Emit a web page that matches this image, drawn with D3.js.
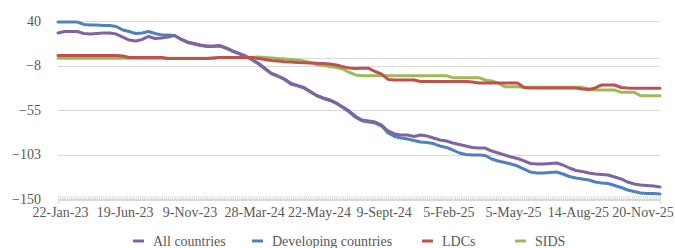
<!DOCTYPE html>
<html>
<head>
<meta charset="utf-8">
<script src="https://cdn.jsdelivr.net/npm/d3@7"></script>
<style>
  html, body { margin: 0; padding: 0; background: #fff; }
  svg { display: block; }
  svg text { font-family: "Liberation Serif", "DejaVu Serif", "Times New Roman", serif !important; font-size: 14px; fill: #595959; }
</style>
</head>
<body>
<svg id="chart" width="675" height="248"></svg>
<script>
// ---- data ----
const tickLabels = ["22-Jan-23","19-Jun-23","9-Nov-23","28-Mar-24","22-May-24","9-Sept-24","5-Feb-25","5-May-25","14-Aug-25","20-Nov-25"];
const tickIndexStep = 10;
const yTicks = [40, -7.5, -55, -102.5, -150];
const seriesNames = ["All countries", "Developing countries", "LDCs", "SIDS"];

const allCountries = [27.2,28.8,28.8,28.8,26.7,26.1,26.7,27.2,27.2,26.1,
  22.9,19.7,18.7,20.3,23.5,21.3,21.9,22.9,24.5,20.8,
  17.6,16.0,14.4,13.3,13.3,13.8,11.2,8.0,5.3,2.6,
  -1.1,-5.4,-10.7,-16.0,-18.7,-21.9,-26.7,-28.8,-31.0,-35.3,
  -39.5,-42.2,-44.3,-47.5,-51.8,-56.1,-61.9,-65.7,-66.7,-67.8,
  -71.0,-77.4,-80.6,-81.7,-81.7,-83.3,-81.7,-82.8,-84.9,-87.0,
  -88.1,-90.2,-91.8,-93.4,-95.0,-95.6,-95.6,-98.8,-100.9,-103.0,
  -105.2,-106.8,-109.4,-112.1,-112.6,-112.6,-112.1,-111.6,-113.7,-116.9,
  -119.6,-120.6,-122.2,-123.3,-123.8,-124.4,-126.5,-128.6,-131.9,-134.0,
  -135.1,-135.6,-136.1,-137.2];

const developing = [38.9,38.9,38.9,38.9,36.3,35.7,35.7,35.2,35.2,34.1,
  30.4,28.8,26.7,27.2,28.8,26.7,25.1,25.1,24.5,20.3,
  17.1,15.5,13.9,12.8,12.8,13.3,10.7,7.5,4.8,2.1,
  -1.6,-5.9,-11.2,-16.5,-19.2,-22.4,-27.2,-29.3,-31.5,-35.8,
  -40.0,-42.7,-44.8,-48.0,-52.3,-57.2,-63.0,-66.8,-67.8,-68.9,
  -72.1,-79.6,-83.3,-84.9,-86.0,-87.6,-89.2,-89.7,-90.8,-93.4,
  -95.0,-97.7,-100.9,-102.5,-103.0,-103.0,-103.6,-107.3,-109.4,-111.0,
  -112.6,-114.8,-118.0,-121.2,-122.2,-122.2,-121.7,-121.2,-123.3,-126.0,
  -127.6,-128.6,-129.7,-131.9,-132.9,-133.5,-135.6,-137.7,-140.4,-142.0,
  -143.6,-144.1,-144.1,-144.7];

const ldcs = [3.2,3.2,3.2,3.2,3.2,3.2,3.2,3.2,3.2,3.2,
  2.6,1.0,1.0,1.0,1.0,1.0,1.0,0.0,0.0,0.0,
  0.0,0.0,0.0,0.0,0.5,1.0,1.0,1.0,1.0,1.0,
  1.0,0.0,-1.1,-2.2,-2.7,-3.4,-3.8,-4.3,-4.5,-4.8,
  -5.2,-5.4,-5.9,-7.0,-8.8,-10.2,-10.7,-10.5,-10.5,-13.9,
  -16.6,-22.4,-23.0,-23.0,-23.0,-23.0,-24.6,-24.6,-24.6,-24.6,
  -24.6,-24.6,-24.6,-24.6,-25.1,-26.2,-26.2,-26.2,-26.2,-26.2,
  -26.2,-26.2,-31.0,-31.5,-31.5,-31.5,-31.5,-31.5,-31.5,-31.5,
  -31.5,-32.6,-33.1,-31.5,-28.3,-28.3,-28.3,-31.0,-31.5,-31.8,
  -31.8,-31.8,-31.8,-31.8];

const sids = [0.2,0.2,0.2,0.2,0.2,0.2,0.2,0.2,0.2,0.2,
  0.2,0.2,0.2,0.2,0.2,0.2,0.2,0.2,0.2,0.2,
  0.2,0.2,0.2,0.2,0.2,1.0,1.0,1.0,1.0,1.0,
  1.0,1.6,1.0,0.5,0.0,-0.6,-1.1,-1.6,-2.7,-4.3,
  -6.4,-7.5,-8.6,-9.6,-11.2,-15.0,-17.6,-18.4,-18.4,-18.4,
  -18.4,-18.4,-18.4,-18.4,-18.4,-18.4,-18.4,-18.4,-18.4,-18.4,
  -18.4,-20.5,-20.5,-20.5,-20.5,-20.5,-23.0,-24.0,-26.2,-30.1,
  -30.1,-30.1,-30.8,-30.8,-30.8,-30.8,-30.8,-30.8,-30.8,-30.8,
  -30.8,-30.8,-32.6,-33.7,-33.7,-33.7,-33.7,-36.1,-36.1,-36.1,
  -39.7,-39.7,-39.7,-39.7];

const colors = { "All countries": "#8064A2", "Developing countries": "#4F81BD", "LDCs": "#C0504D", "SIDS": "#9BBB59" };

// ---- chart ----
const svg = d3.select("#chart");
const margin = { left: 58, right: 15, top: 21, bottom: 49 };
const W = 675, H = 248;
const n = allCountries.length;

const x = d3.scaleLinear().domain([0, n - 1]).range([margin.left, W - margin.right]);
const y = d3.scaleLinear().domain([-150, 40]).range([H - margin.bottom, margin.top]);

const gridColor = "#D9D9D9";

// gridlines
svg.append("g").selectAll("line").data(yTicks.concat([0])).join("line")
  .attr("x1", margin.left).attr("x2", W - margin.right)
  .attr("y1", d => Math.round(y(d)) + 0.5).attr("y2", d => Math.round(y(d)) + 0.5)
  .attr("stroke", gridColor).attr("stroke-width", 1);

// y axis labels
const yAxis = d3.axisLeft(y).tickValues(yTicks).tickSize(0).tickPadding(0)
  .tickFormat(d => d3.format(".0f")(d < 0 ? d - 0.0001 : d));
const gy = svg.append("g").attr("transform", `translate(41,0)`).call(yAxis);
gy.attr("font-family", null).attr("font-size", null);
gy.select(".domain").remove();

// x axis: dense minor ticks
const minorTicks = d3.range(0, n - 1 + 0.001, 1 / 3);
const gxm = svg.append("g").attr("transform", `translate(0,${y(-150) + 1})`)
  .call(d3.axisBottom(x).tickValues(minorTicks).tickSize(4).tickFormat(""));
gxm.select(".domain").attr("stroke", gridColor);
gxm.selectAll(".tick line").attr("stroke", gridColor).attr("transform", "translate(0,-4)");

// x axis labels
const labelIdx = tickLabels.map((_, i) => i * tickIndexStep);
const gx = svg.append("g").attr("transform", `translate(2,${y(-150)})`)
  .call(d3.axisBottom(x).tickValues(labelIdx).tickSize(0).tickPadding(8)
    .tickFormat((d, i) => tickLabels[i]));
gx.attr("font-family", null).attr("font-size", null);
gx.select(".domain").remove();

// lines
const series = [
  { name: "Developing countries", values: developing },
  { name: "All countries", values: allCountries },
  { name: "SIDS", values: sids },
  { name: "LDCs", values: ldcs }
];
const line = d3.line().x((d, i) => x(i)).y(d => y(d));
svg.append("g").selectAll("path").data(series).join("path")
  .attr("d", d => line(d.values))
  .attr("fill", "none")
  .attr("stroke", d => colors[d.name])
  .attr("stroke-width", 3)
  .attr("stroke-linejoin", "round")
  .attr("stroke-linecap", "round");

// legend
const legendItems = [
  { name: "All countries", x: 133 },
  { name: "Developing countries", x: 252 },
  { name: "LDCs", x: 422 },
  { name: "SIDS", x: 515 }
];
const lg = svg.append("g").attr("transform", "translate(0,241)");
const li = lg.selectAll("g").data(legendItems).join("g")
  .attr("transform", d => `translate(${d.x},0)`);
li.append("line").attr("x1", 0).attr("x2", 11).attr("y1", 0).attr("y2", 0)
  .attr("stroke", d => colors[d.name]).attr("stroke-width", 3);
li.append("text").attr("x", 20).attr("y", 5)
  .text(d => d.name);
</script>
</body>
</html>
